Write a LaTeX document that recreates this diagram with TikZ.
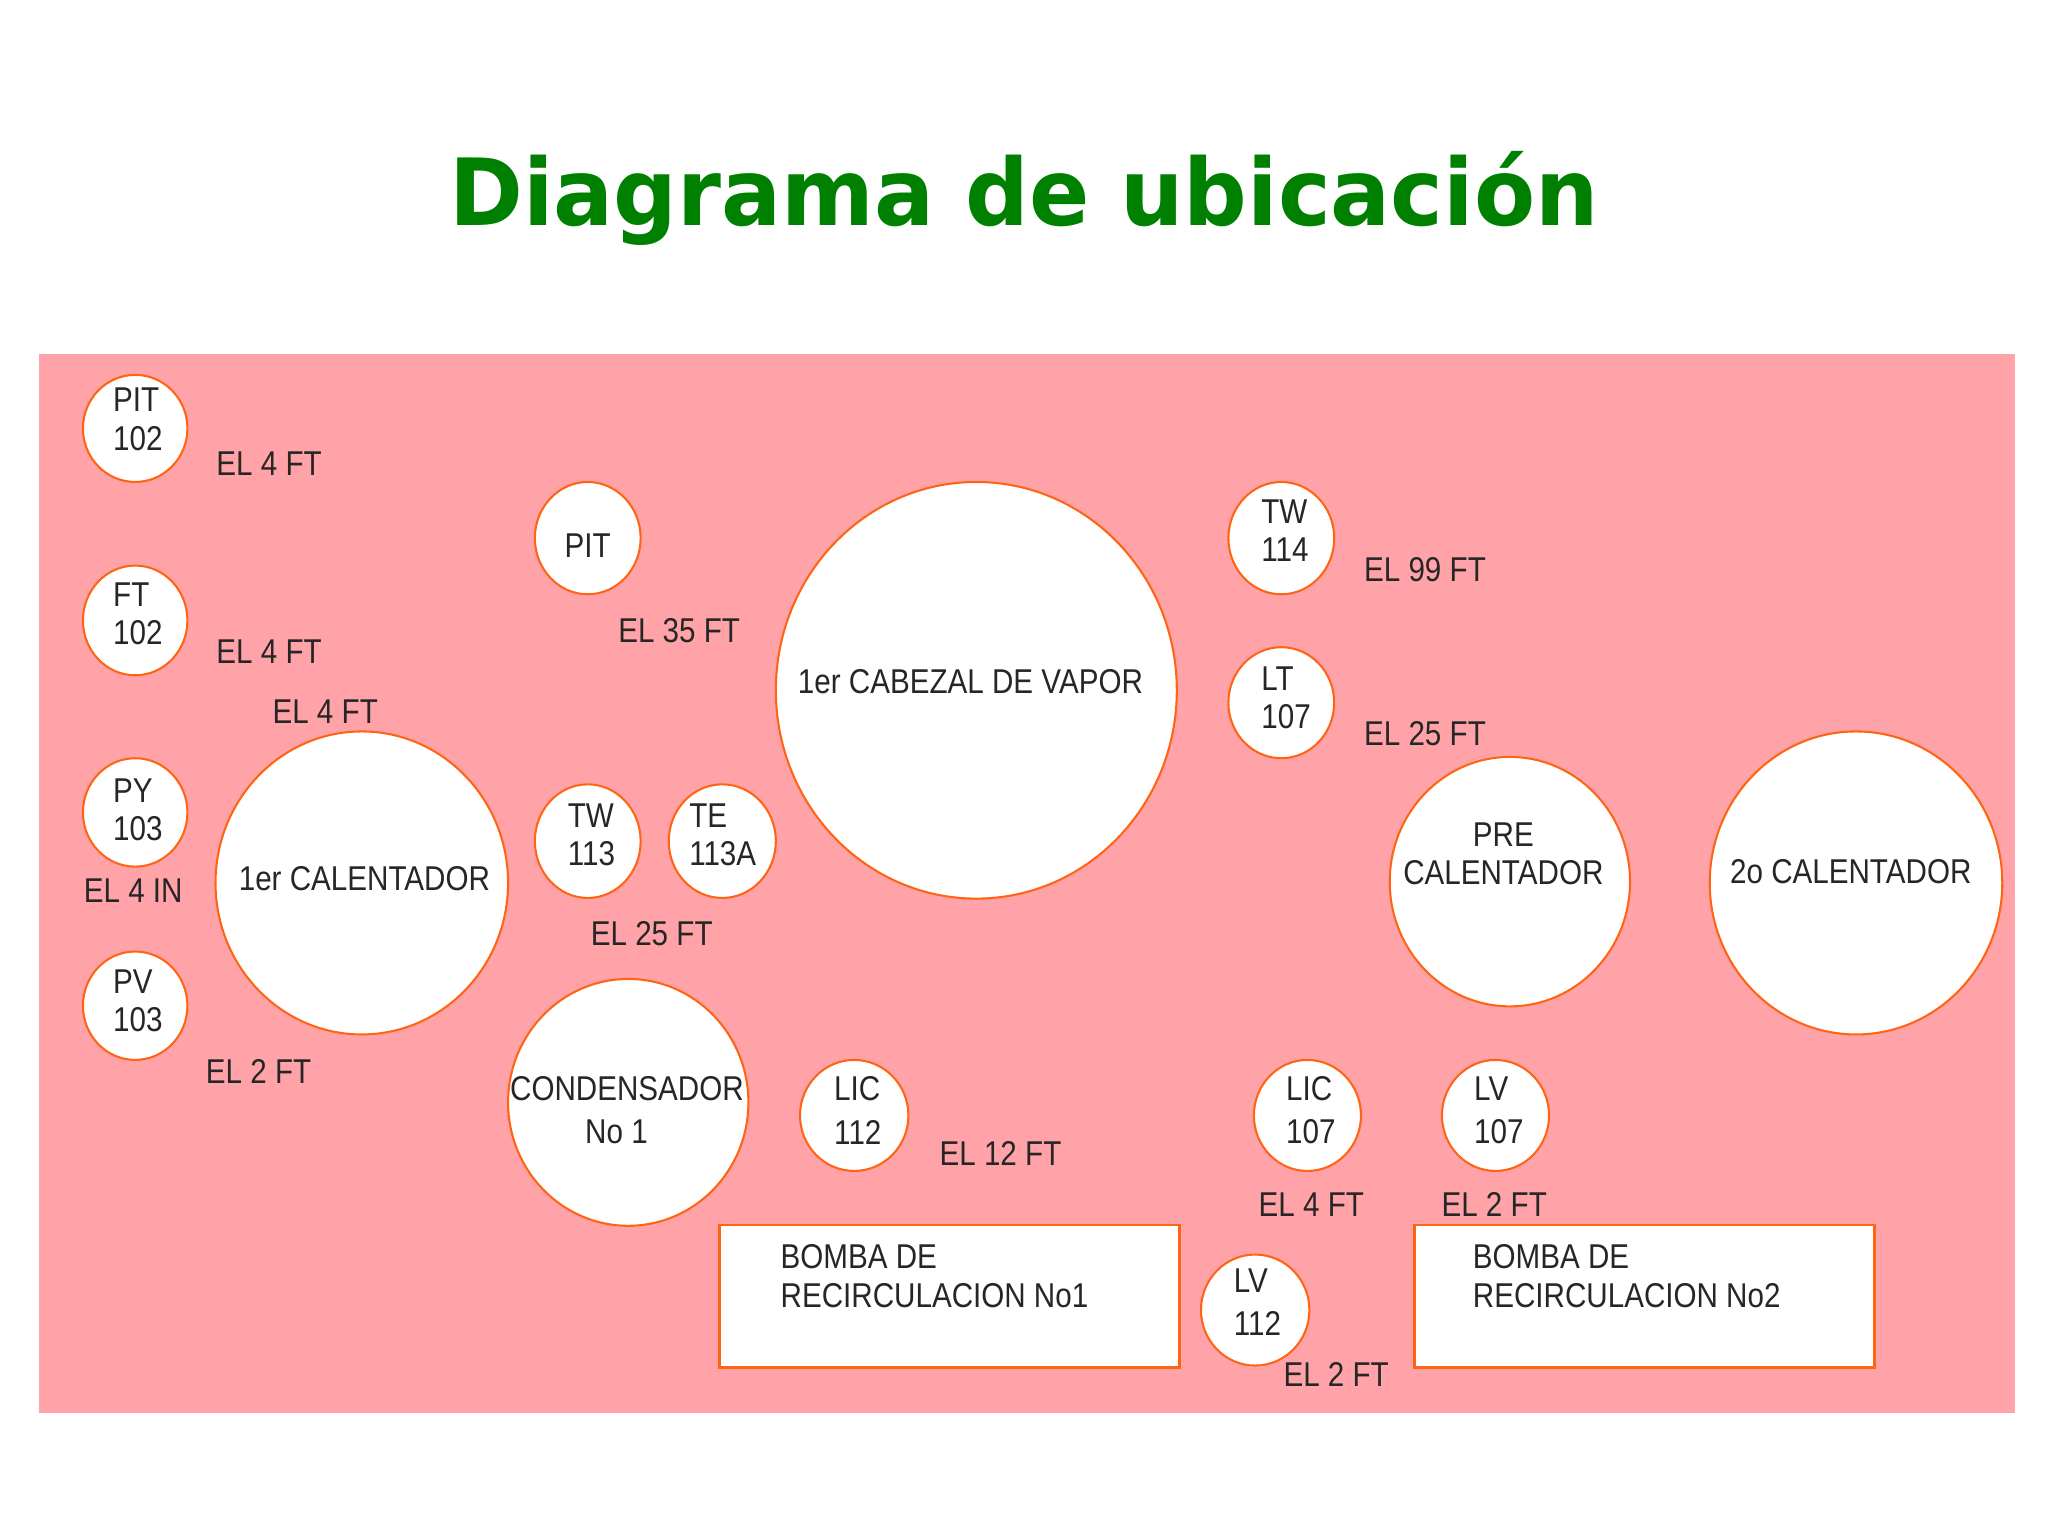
\documentclass[tikz,border=0pt]{standalone}
\usepackage{fontspec}
\setmainfont[FakeStretch=0.86]{Liberation Sans}
\newfontfamily\titlefont[FakeStretch=0.96]{DejaVu Sans}
\usepackage{xcolor}
\usepackage{tikz}
\usetikzlibrary{shapes.geometric, positioning}
\definecolor{rosado}{HTML}{FFA3A8}
\definecolor{naranja}{HTML}{FF6414}
\definecolor{verde}{HTML}{008000}
\tikzset{
    vessel/.style={ellipse, draw=naranja, fill=white, line width=0.45pt, inner sep=0pt},
    pumpbox/.style={rectangle, draw=naranja, fill=white, line width=0.55pt, inner sep=0pt},
    tag/.style={font=\fontsize{7.5}{8.3}\selectfont, text=black!85, align=center, inner sep=0pt},
    lefttag/.style={tag, align=left, anchor=west}
}
\begin{document}
\begin{tikzpicture}[x=0.1mm, y=-0.1mm]

        \useasboundingbox (0,0) rectangle (1568,1176);

        % Title
        \node[font=\titlefont\fontsize{20.2}{24}\selectfont\bfseries, text=verde, inner sep=0pt] (titulo) at (784,152) {Diagrama de ubicación};

        % Background panel
        \fill[rosado] (30,271) rectangle (1543,1082);

        % Small instruments on the left
        \node[vessel, minimum width=8mm, minimum height=8.2mm] (pit102) at (103.5,328) {};
        \node[lefttag] (pit102txt) at (86,321) {PIT\\102};
        \node[vessel, minimum width=8mm, minimum height=8.4mm] (ft102) at (103.5,475) {};
        \node[lefttag] (ft102txt) at (86,470) {FT\\102};
        \node[vessel, minimum width=8mm, minimum height=8.3mm] (py103) at (103.5,622) {};
        \node[lefttag] (py103txt) at (86,620) {PY\\103};
        \node[vessel, minimum width=8mm, minimum height=8.3mm] (pv103) at (103.5,770) {};
        \node[lefttag] (pv103txt) at (86,766) {PV\\103};

        % Big vessels
        \node[vessel, minimum width=22.4mm, minimum height=23.2mm] (calentador1) at (277,676) {};
        \node[tag] (calentador1txt) at (279,673) {1er CALENTADOR};
        \node[vessel, minimum width=30.7mm, minimum height=31.9mm] (cabezal) at (747.5,528.5) {};
        \node[tag] (cabezaltxt) at (743,522) {1er CABEZAL DE VAPOR};
        \node[vessel, minimum width=18.4mm, minimum height=19.1mm] (precalentador) at (1156,675) {};
        \node[tag] (precalentadortxt) at (1151,654) {PRE\\CALENTADOR};
        \node[vessel, minimum width=22.4mm, minimum height=23.2mm] (calentador2) at (1421,676) {};
        \node[tag] (calentador2txt) at (1417,667) {2o CALENTADOR};
        \node[vessel, minimum width=18.4mm, minimum height=18.9mm] (condensador) at (481,844) {};
        \node[tag] (condensadortxt) at (480,850) {CONDENSADOR\\[1.2pt]No 1\hspace*{1.6mm}};

        % Instruments in the middle
        \node[vessel, minimum width=8.1mm, minimum height=8.6mm] (pit) at (450,412) {};
        \node[tag] (pittxt) at (450,418) {PIT};
        \node[vessel, minimum width=8.1mm, minimum height=8.7mm] (tw113) at (450,644) {};
        \node[lefttag] (tw113txt) at (434,639) {TW\\113};
        \node[vessel, minimum width=8.2mm, minimum height=8.7mm] (te113a) at (553,644) {};
        \node[lefttag] (te113atxt) at (527,639) {TE\\113A};
        \node[vessel, minimum width=8.1mm, minimum height=8.6mm] (tw114) at (981,412) {};
        \node[lefttag] (tw114txt) at (965,406) {TW\\114};
        \node[vessel, minimum width=8.1mm, minimum height=8.5mm] (lt107) at (981,538) {};
        \node[lefttag] (lt107txt) at (965,534) {LT\\107};
        \node[vessel, minimum width=8.3mm, minimum height=8.5mm] (lic112) at (654,854) {};
        \node[lefttag] (lic112txt) at (638,850) {LIC\\[1.2pt]112};
        \node[vessel, minimum width=8.2mm, minimum height=8.5mm] (lic107) at (1001,854) {};
        \node[lefttag] (lic107txt) at (984,850) {LIC\\[1.2pt]107};
        \node[vessel, minimum width=8.2mm, minimum height=8.5mm] (lv107) at (1145,854) {};
        \node[lefttag] (lv107txt) at (1128,850) {LV\\[1.2pt]107};
        \node[vessel, minimum width=8.3mm, minimum height=8.5mm] (lv112) at (961,1003) {};
        \node[lefttag] (lv112txt) at (944,997) {LV\\[1.2pt]112};

        % Pumps
        \node[pumpbox, minimum width=35.2mm, minimum height=10.9mm] (bomba1) at (727,992.5) {};
        \node[lefttag] (bomba1txt) at (597,977) {BOMBA DE\\RECIRCULACION No1};
        \node[pumpbox, minimum width=35.2mm, minimum height=10.9mm] (bomba2) at (1259,992.5) {};
        \node[lefttag] (bomba2txt) at (1127,977) {BOMBA DE\\RECIRCULACION No2};

        % Elevations
        \node[tag] (el1) at (206,355) {EL 4 FT};
        \node[tag] (el2) at (206,499) {EL 4 FT};
        \node[tag] (el3) at (249,545) {EL 4 FT};
        \node[tag] (el4) at (102,682) {EL 4 IN};
        \node[tag] (el5) at (198,820) {EL 2 FT};
        \node[tag] (el6) at (520,483) {EL 35 FT};
        \node[tag] (el7) at (499,715) {EL 25 FT};
        \node[tag] (el8) at (1091,436) {EL 99 FT};
        \node[tag] (el9) at (1091,562) {EL 25 FT};
        \node[tag] (el10) at (766,883) {EL 12 FT};
        \node[tag] (el11) at (1004,922) {EL 4 FT};
        \node[tag] (el12) at (1144,922) {EL 2 FT};
        \node[tag] (el13) at (1023,1052) {EL 2 FT};

    \end{tikzpicture}
\end{document}
